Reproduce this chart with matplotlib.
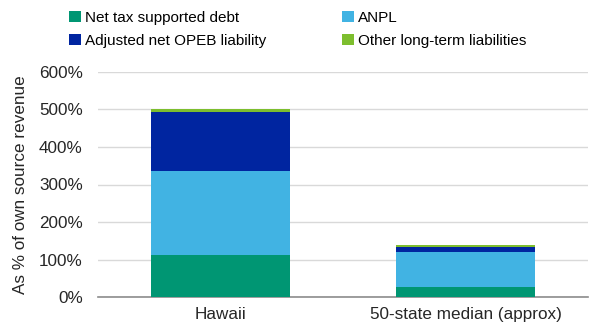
import matplotlib
matplotlib.use("Agg")
import matplotlib.pyplot as plt
import numpy as np

plt.rcParams['font.family'] = ['Liberation Sans', 'DejaVu Sans']

categories = ["Hawaii", "50-state median (approx)"]
net_tax_debt = [112, 27]
anpl = [224, 93]
opeb = [158, 14]
other_lt = [7, 5]
yticks = [0, 100, 200, 300, 400, 500, 600]

series = [
    ("Net tax supported debt", net_tax_debt, "#009673"),
    ("ANPL", anpl, "#41B3E3"),
    ("Adjusted net OPEB liability", opeb, "#0025A0"),
    ("Other long-term liabilities", other_lt, "#7DBE2E"),
]

text_color = "#262626"

fig = plt.figure(figsize=(6.05, 3.28), dpi=100)
ax = fig.add_axes([0.162, 0.0945, 0.81, 0.686])

x = np.arange(len(categories))
bottom = np.zeros(len(categories))
handles = []
for name, vals, color in series:
    h = ax.bar(x, vals, width=0.57, bottom=bottom, color=color, label=name, zorder=3)
    handles.append(h)
    bottom += np.array(vals)

ax.set_xlim(-0.5, 1.5)
ax.set_ylim(0, 600)
ax.set_yticks(yticks)
ax.set_yticklabels([f"{v}%" for v in yticks], fontsize=12.3, color=text_color)
ax.set_xticks(x)
ax.set_xticklabels(categories, fontsize=12.3, color=text_color)
ax.tick_params(axis="y", length=0, pad=11)
ax.tick_params(axis="x", length=0, pad=7)
ax.grid(axis="y", color="#D9D9D9", linewidth=1, zorder=0)
for s in ["top", "right", "left"]:
    ax.spines[s].set_visible(False)
ax.spines["bottom"].set_color("#8C8C8C")
ax.spines["bottom"].set_linewidth(1.2)
ax.set_ylabel("As % of own source revenue", fontsize=12.3, color=text_color, labelpad=8)

# legend in two columns, filled row by row
labels = [s[0] for s in series]
col_order = [0, 2, 1, 3]
fig.legend([handles[i] for i in col_order], [labels[i] for i in col_order], ncol=2,
           loc="upper left", bbox_to_anchor=(0.097, 1.0), frameon=False, fontsize=11,
           handlelength=0.75, handleheight=0.75, handletextpad=0.25, columnspacing=5.0,
           labelspacing=0.6, borderaxespad=0.3, bbox_transform=fig.transFigure)

fig.savefig("out.png", dpi=100)
